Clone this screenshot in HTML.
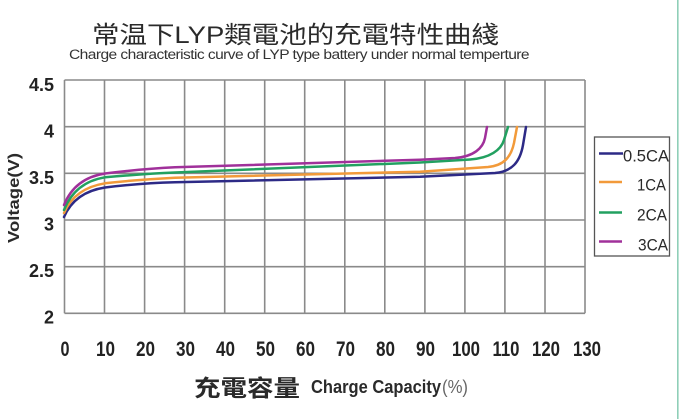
<!DOCTYPE html>
<html><head><meta charset="utf-8"><style>
html,body{margin:0;padding:0;background:#fff;}
svg{display:block;}
</style></head><body>
<svg width="680" height="419" viewBox="0 0 680 419" xmlns="http://www.w3.org/2000/svg">
<rect x="0" y="0" width="680" height="419" fill="#fff"/>
<rect x="677" y="0" width="1.6" height="419" fill="#8fcfb8"/>

<text x="92" y="43" font-family="Liberation Sans, Noto Sans CJK TC, sans-serif" font-size="24" fill="#2a2a2a" textLength="407" lengthAdjust="spacingAndGlyphs">常温下LYP類電池的充電特性曲綫</text>
<text x="69" y="59" font-family="Liberation Sans, sans-serif" font-size="13.5" fill="#333" textLength="460" lengthAdjust="spacingAndGlyphs" letter-spacing="-0.5">Charge characteristic curve of LYP type battery under normal temperture</text>

<g stroke="#8a8a8a" stroke-width="1.6" fill="none">
<line x1="64.5" y1="80" x2="585" y2="80"/>
<line x1="64.5" y1="126.7" x2="585" y2="126.7"/>
<line x1="64.5" y1="173.3" x2="585" y2="173.3"/>
<line x1="64.5" y1="220" x2="585" y2="220"/>
<line x1="64.5" y1="266.7" x2="585" y2="266.7"/>
<line x1="64.5" y1="313.3" x2="585" y2="313.3"/>
<line x1="64.5" y1="80" x2="64.5" y2="313.3"/>
<line x1="104.5" y1="80" x2="104.5" y2="313.3"/>
<line x1="144.6" y1="80" x2="144.6" y2="313.3"/>
<line x1="184.6" y1="80" x2="184.6" y2="313.3"/>
<line x1="224.7" y1="80" x2="224.7" y2="313.3"/>
<line x1="264.7" y1="80" x2="264.7" y2="313.3"/>
<line x1="304.7" y1="80" x2="304.7" y2="313.3"/>
<line x1="344.8" y1="80" x2="344.8" y2="313.3"/>
<line x1="384.8" y1="80" x2="384.8" y2="313.3"/>
<line x1="424.9" y1="80" x2="424.9" y2="313.3"/>
<line x1="464.9" y1="80" x2="464.9" y2="313.3"/>
<line x1="504.9" y1="80" x2="504.9" y2="313.3"/>
<line x1="545" y1="80" x2="545" y2="313.3"/>
<line x1="585" y1="80" x2="585" y2="313.3"/>
</g>

<g fill="none" stroke-width="2.5" stroke-linecap="round">
<path stroke="#2d2a86" d="M64,217 C70,203 82,191 105,187.5 C125,185 150,183 175,182.3 L420,176.7 L495,173 C512,171.5 520,162 523,145 L526,127"/>
<path stroke="#f29a3a" d="M64,213 C70,199 82,187 105,183.3 C125,181 150,179 175,177.7 L420,171.7 L488,167 C504,165.5 511,157 514,143 L517,127"/>
<path stroke="#22a060" d="M64,210 C70,195 82,181 105,177.3 C125,175.5 150,173.5 175,172.5 L420,162.5 L470,159.5 C490,158 501,150 504,140 L508,127"/>
<path stroke="#a0309a" d="M64,205 C70,190 82,177 105,173.5 C125,171 150,168.5 175,167.3 L420,159.7 L455,158 C474,156.5 483,148 485,138 L487,127"/>
</g>

<g font-family="Liberation Sans, sans-serif" font-size="18" font-weight="bold" fill="#222" text-anchor="end">
<text x="54" y="91">4.5</text>
<text x="54" y="137.5">4</text>
<text x="54" y="184">3.5</text>
<text x="54" y="230.5">3</text>
<text x="54" y="277">2.5</text>
<text x="54" y="323.5">2</text>
</g>

<g font-family="Liberation Sans, sans-serif" font-size="21" font-weight="bold" fill="#222" text-anchor="middle">
<text x="65" y="356" textLength="9" lengthAdjust="spacingAndGlyphs">0</text>
<text x="105.5" y="356" textLength="19" lengthAdjust="spacingAndGlyphs">10</text>
<text x="145.5" y="356" textLength="19" lengthAdjust="spacingAndGlyphs">20</text>
<text x="185.5" y="356" textLength="19" lengthAdjust="spacingAndGlyphs">30</text>
<text x="225.5" y="356" textLength="19" lengthAdjust="spacingAndGlyphs">40</text>
<text x="265.5" y="356" textLength="19" lengthAdjust="spacingAndGlyphs">50</text>
<text x="305.5" y="356" textLength="19" lengthAdjust="spacingAndGlyphs">60</text>
<text x="345.5" y="356" textLength="19" lengthAdjust="spacingAndGlyphs">70</text>
<text x="385.5" y="356" textLength="19" lengthAdjust="spacingAndGlyphs">80</text>
<text x="425.5" y="356" textLength="19" lengthAdjust="spacingAndGlyphs">90</text>
<text x="466" y="356" textLength="28" lengthAdjust="spacingAndGlyphs">100</text>
<text x="506" y="356" textLength="27" lengthAdjust="spacingAndGlyphs">110</text>
<text x="546" y="356" textLength="28" lengthAdjust="spacingAndGlyphs">120</text>
<text x="587" y="356" textLength="28" lengthAdjust="spacingAndGlyphs">130</text>
</g>

<text x="194" y="396" font-family="Liberation Sans, Noto Sans CJK TC, sans-serif" font-size="23" font-weight="bold" fill="#2a2a2a" textLength="106" lengthAdjust="spacingAndGlyphs">充電容量</text>
<text x="311" y="393" font-family="Liberation Sans, sans-serif" font-size="18" font-weight="bold" fill="#2a2a2a" textLength="130" lengthAdjust="spacingAndGlyphs">Charge Capacity</text>
<text x="442" y="393" font-family="Liberation Sans, sans-serif" font-size="18" fill="#666" textLength="26" lengthAdjust="spacingAndGlyphs">(%)</text>

<text transform="translate(19,198) rotate(-90)" text-anchor="middle" font-family="Liberation Sans, sans-serif" font-size="16" font-weight="bold" fill="#2a2a2a" textLength="90" lengthAdjust="spacingAndGlyphs">Voltage(V)</text>

<rect x="594.5" y="137" width="75" height="119" fill="#fff" stroke="#555" stroke-width="1.3"/>
<g stroke-width="2.5">
<line x1="599" y1="153.5" x2="623" y2="153.5" stroke="#2d2a86"/>
<line x1="599" y1="182" x2="622" y2="182" stroke="#f29a3a"/>
<line x1="599" y1="212.5" x2="622" y2="212.5" stroke="#22a060"/>
<line x1="599" y1="241.5" x2="622" y2="241.5" stroke="#a0309a"/>
</g>
<g font-family="Liberation Sans, sans-serif" font-size="17" fill="#2a2a2a" text-anchor="end">
<text x="669" y="161.5" textLength="46" lengthAdjust="spacingAndGlyphs">0.5CA</text>
<text x="666" y="190.5" textLength="29" lengthAdjust="spacingAndGlyphs">1CA</text>
<text x="667" y="220.5" textLength="30" lengthAdjust="spacingAndGlyphs">2CA</text>
<text x="668" y="250.5" textLength="30" lengthAdjust="spacingAndGlyphs">3CA</text>
</g>
</svg>
</body></html>
